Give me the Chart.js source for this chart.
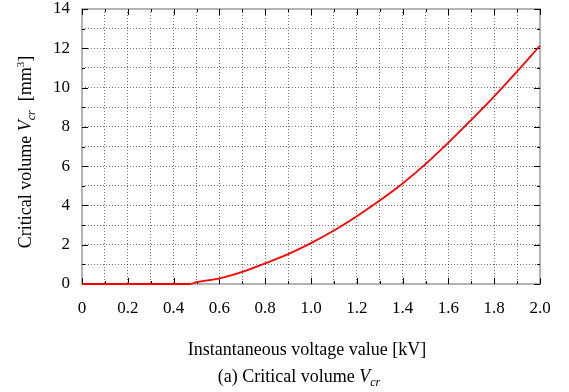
<!DOCTYPE html>
<html>
<head>
<meta charset="utf-8">
<script src="https://cdn.jsdelivr.net/npm/chart.js@4.4.1/dist/chart.umd.min.js"></script>
<style>
  html, body { margin: 0; padding: 0; background: #fff; }
  #wrap { width: 569px; height: 392px; position: relative; }
</style>
</head>
<body>
<div id="wrap"><canvas id="chart"></canvas></div>
<script>
// Data
const voltage = [0, 0.1, 0.2, 0.3, 0.4, 0.47, 0.5, 0.6, 0.7, 0.8, 0.9, 1.0, 1.1, 1.2, 1.3, 1.4, 1.5, 1.6, 1.7, 1.8, 1.9, 2.0];
const volume  = [0, 0, 0, 0, 0, 0, 0.09, 0.29, 0.62, 1.05, 1.52, 2.08, 2.72, 3.45, 4.25, 5.12, 6.1, 7.2, 8.35, 9.55, 10.82, 12.13];

const X_MIN = 0, X_MAX = 2.0, X_STEP = 0.1;
const Y_MIN = 0, Y_MAX = 14, Y_STEP = 1;

const SERIF = '"Liberation Serif", "Times New Roman", serif';

// draw a run of text pieces with their own font and offset
function drawRich(ctx, parts, x, y) {
  let total = 0;
  parts.forEach(p => { ctx.font = p.font; total += ctx.measureText(p.text).width; });
  let cx = x - total / 2;
  parts.forEach(p => {
    ctx.font = p.font;
    ctx.fillText(p.text, cx, y + (p.dy || 0));
    cx += ctx.measureText(p.text).width;
  });
}

const decor = {
  id: 'decor',
  beforeDatasetsDraw(chart) {
    const ctx = chart.ctx;
    const a = chart.chartArea;
    const xs = chart.scales.x, ys = chart.scales.y;
    ctx.save();

    // grey frame
    ctx.strokeStyle = '#b4b4b4';
    ctx.lineWidth = 2;
    ctx.strokeRect(a.left, a.top, a.right - a.left, a.bottom - a.top);

    // inward ticks on all four sides
    ctx.strokeStyle = '#000';
    ctx.lineWidth = 1;
    ctx.beginPath();
    for (let i = 0; i <= 20; i++) {
      const px = Math.round(xs.getPixelForValue(i / 10)) + 0.5;
      const len = i % 2 === 0 ? 6 : 3;
      ctx.moveTo(px, a.bottom); ctx.lineTo(px, a.bottom - len);
      ctx.moveTo(px, a.top); ctx.lineTo(px, a.top + len);
    }
    for (let j = 0; j <= 14; j++) {
      const py = Math.round(ys.getPixelForValue(j)) + 0.5;
      const len = j % 2 === 0 ? 6 : 3;
      ctx.moveTo(a.left, py); ctx.lineTo(a.left + len, py);
      ctx.moveTo(a.right, py); ctx.lineTo(a.right - len, py);
    }
    ctx.stroke();
    ctx.restore();
  },
  afterDraw(chart) {
    const ctx = chart.ctx;
    ctx.save();
    ctx.fillStyle = '#000';
    ctx.textBaseline = 'alphabetic';
    ctx.textAlign = 'left';
    const n = '18px ' + SERIF, it = 'italic 18px ' + SERIF;
    const sub = 'italic 12px ' + SERIF, sup = '11px ' + SERIF;

    drawRich(ctx, [{ text: 'Instantaneous voltage value [kV]', font: n }], 307, 355);
    drawRich(ctx, [
      { text: '(a) Critical volume ', font: n },
      { text: 'V', font: it },
      { text: 'cr', font: sub, dy: 4 }
    ], 299, 382);

    ctx.translate(31, 152);
    ctx.rotate(-Math.PI / 2);
    drawRich(ctx, [
      { text: 'Critical volume ', font: n },
      { text: 'V', font: it },
      { text: 'cr', font: sub, dy: 4 },
      { text: '  [mm', font: n },
      { text: '3', font: sup, dy: -7 },
      { text: ']', font: n }
    ], 0, 0);
    ctx.restore();
  }
};

new Chart(document.getElementById('chart'), {
  type: 'line',
  data: {
    datasets: [{
      data: voltage.map((v, i) => ({ x: v, y: volume[i] })),
      borderColor: '#ff0000',
      borderWidth: 1.8,
      pointRadius: 0,
      fill: false,
      clip: 4,
      cubicInterpolationMode: 'monotone'
    }]
  },
  options: {
    responsive: true,
    maintainAspectRatio: false,
    animation: false,
    layout: { padding: { top: 9, right: 29, left: 0, bottom: 0 } },
    plugins: { legend: { display: false }, tooltip: { enabled: false } },
    scales: {
      x: {
        type: 'linear',
        min: X_MIN, max: X_MAX,
        afterFit: (s) => { s.height = 108; s.paddingLeft = 0; s.paddingRight = 0; },
        grid: { color: 'rgba(0,0,0,0.55)', lineWidth: 1, drawTicks: false },
        border: { display: false, dash: [1, 2] },
        ticks: {
          stepSize: X_STEP,
          padding: 14,
          color: '#000',
          autoSkip: false,
          maxRotation: 0,
          font: { family: SERIF, size: 17 },
          callback: (v) => {
            const k = Math.round(v * 10);
            if (k % 2 !== 0) return '';
            return k === 0 ? '0' : (k / 10).toFixed(1);
          }
        }
      },
      y: {
        min: Y_MIN, max: Y_MAX,
        afterFit: (s) => { s.width = 82; s.paddingTop = 0; s.paddingBottom = 0; },
        grid: { color: 'rgba(0,0,0,0.55)', lineWidth: 1, drawTicks: false },
        border: { display: false, dash: [1, 2] },
        ticks: {
          stepSize: Y_STEP,
          padding: 12,
          color: '#000',
          autoSkip: false,
          font: { family: SERIF, size: 17 },
          callback: (v) => (Math.round(v) % 2 === 0 ? String(Math.round(v)) : '')
        }
      }
    }
  },
  plugins: [decor]
});
</script>
</body>
</html>
